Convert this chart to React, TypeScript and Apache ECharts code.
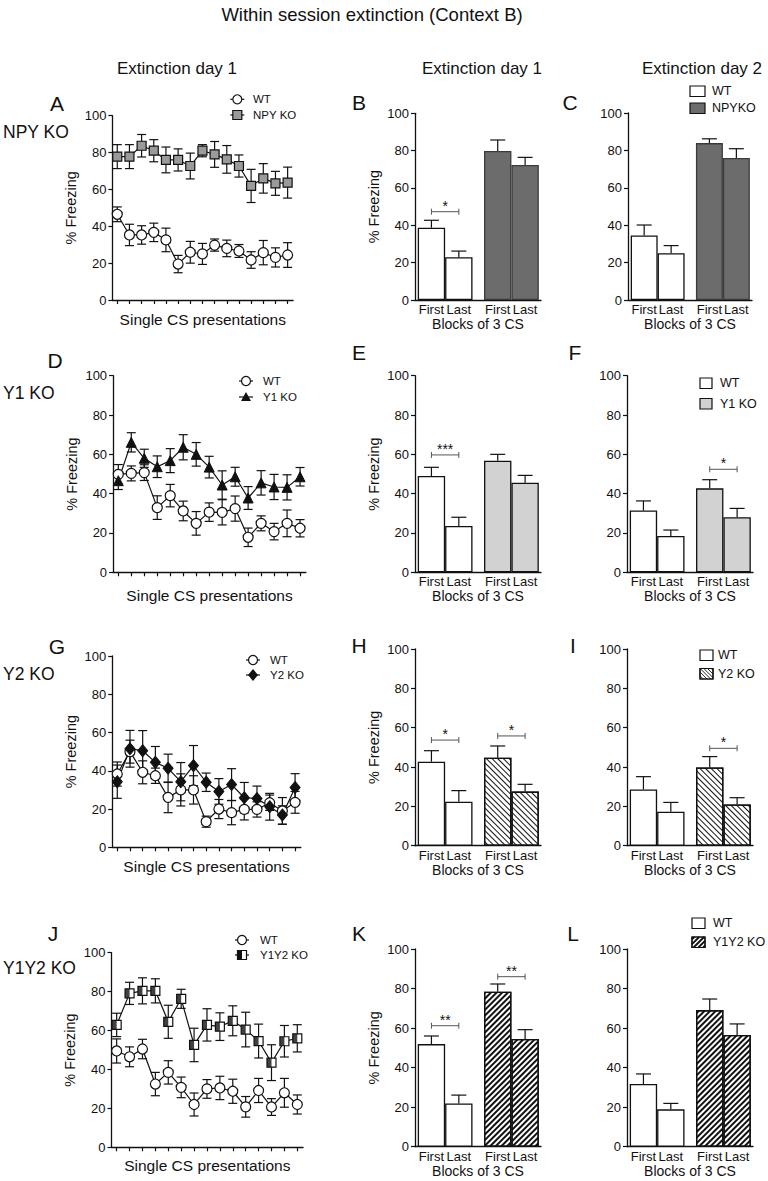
import React, { useEffect, useRef } from "react";
import * as echarts from "echarts";

const FONT = "'Liberation Sans', Arial, Helvetica, sans-serif";
const INK = "#111";

// ---------- single CS presentations (line panels) ----------
const csTrials = [1, 2, 3, 4, 5, 6, 7, 8, 9, 10, 11, 12, 13, 14, 15];

// A: NPY KO
const npyWT = [46.5, 35.3, 35.3, 36.7, 32.6, 19.5, 25.9, 25.0, 29.8, 28.0, 26.6, 21.7, 25.7, 23.1, 24.4];
const npyWTErr = [4.0, 5.8, 5.0, 5.0, 6.4, 4.7, 5.9, 5.7, 3.3, 4.5, 3.5, 4.5, 6.6, 5.2, 6.7];
const npyKO = [77.8, 77.8, 83.7, 81.0, 76.0, 76.0, 72.7, 81.0, 79.0, 76.3, 72.7, 61.9, 66.0, 63.3, 63.7];
const npyKOErr = [6.5, 6.5, 6.1, 6.0, 7.0, 6.0, 7.0, 3.3, 7.0, 7.5, 6.0, 9.0, 8.0, 6.5, 8.4];

// D: Y1 KO
const y1WT = [49.8, 50.3, 50.7, 32.9, 39.0, 31.2, 24.9, 30.6, 30.5, 32.4, 17.8, 24.9, 20.7, 24.9, 22.4];
const y1WTErr = [5.0, 3.8, 4.0, 6.0, 5.7, 5.0, 6.0, 4.7, 6.4, 6.4, 4.7, 3.8, 4.2, 6.8, 4.4];
const y1KO = [46.6, 66.1, 58.0, 53.7, 56.8, 63.6, 60.0, 53.5, 44.4, 48.6, 37.8, 45.5, 43.4, 43.2, 48.6];
const y1KOErr = [4.5, 4.9, 4.6, 5.5, 6.1, 6.4, 6.0, 5.5, 7.2, 4.8, 5.8, 6.2, 6.4, 6.4, 4.7];

// G: Y2 KO
const y2WT = [38.3, 50.0, 39.2, 37.4, 26.1, 30.0, 30.0, 13.4, 20.0, 18.1, 19.8, 19.8, 23.3, 19.0, 23.5];
const y2WTErr = [6.3, 6.0, 6.0, 4.0, 8.0, 8.4, 7.4, 2.9, 5.0, 6.3, 5.5, 4.0, 4.0, 7.0, 5.7];
const y2KO = [34.3, 51.5, 50.5, 44.4, 41.3, 34.3, 42.7, 34.0, 29.2, 32.8, 25.9, 25.5, 21.2, 16.9, 31.3];
const y2KOErr = [8.7, 9.6, 10.5, 8.3, 7.4, 10.0, 10.5, 4.8, 6.7, 8.3, 8.0, 6.5, 7.0, 4.8, 7.2];

// J: Y1Y2 KO
const y12WT = [49.5, 46.5, 50.5, 32.5, 38.5, 30.8, 22.0, 30.0, 30.5, 28.8, 20.8, 29.2, 20.7, 28.0, 22.0];
const y12WTErr = [6.2, 5.1, 5.0, 6.0, 6.0, 5.3, 5.9, 4.8, 6.0, 6.2, 5.3, 6.2, 4.3, 7.4, 4.9];
const y12KO = [62.9, 79.1, 80.4, 80.4, 64.5, 76.3, 52.6, 62.9, 62.0, 65.0, 60.5, 54.6, 43.5, 54.5, 56.0];
const y12KOErr = [6.0, 5.7, 6.7, 6.2, 8.5, 4.9, 8.6, 8.3, 7.1, 7.7, 8.9, 8.7, 9.2, 8.1, 7.0];

// ---------- blocks of 3 CS (bar panels) ----------
const blockLabels = ["First", "Last", "First", "Last"];
const blockPos = [1, 2, 3.42, 4.42];

// B / C : NPY KO, day 1 / day 2   [First, Last]
const bWT = [38.7, 22.9]; const bWTErr = [4.0, 3.3];
const bKO = [79.8, 72.3]; const bKOErr = [5.9, 4.1];
const cWT = [34.5, 25.0]; const cWTErr = [5.6, 4.1];
const cKO = [83.9, 75.9]; const cKOErr = [2.3, 5.0];
// E / F : Y1 KO
const eWT = [49.0, 23.6]; const eWTErr = [4.4, 4.4];
const eKO = [56.8, 45.6]; const eKOErr = [3.2, 3.7];
const fWT = [31.4, 18.5]; const fWTErr = [4.9, 3.0];
const fKO = [42.7, 28.0]; const fKOErr = [4.4, 4.5];
// H / I : Y2 KO
const hWT = [42.7, 22.4]; const hWTErr = [5.6, 5.6];
const hKO = [44.7, 27.5]; const hKOErr = [6.0, 3.7];
const iWT = [28.6, 17.3]; const iWTErr = [6.5, 4.7];
const iKO = [39.8, 21.0]; const iKOErr = [5.5, 3.4];
// K / L : Y1Y2 KO
const kWT = [51.9, 21.9]; const kWTErr = [4.1, 4.2];
const kKO = [78.4, 54.5]; const kKOErr = [3.9, 4.7];
const lWT = [31.7, 18.9]; const lWTErr = [5.1, 3.0];
const lKO = [69.1, 56.5]; const lKOErr = [5.6, 5.6];

// significance brackets: [from bar, to bar, level, label]
type Sig = [number, number, number, string];
const sigB: Sig[] = [[0, 1, 47.3, "*"]];
const sigC: Sig[] = [];
const sigE: Sig[] = [[0, 1, 59.7, "***"]];
const sigF: Sig[] = [[2, 3, 52.4, "*"]];
const sigH: Sig[] = [[0, 1, 53.7, "*"], [2, 3, 55.8, "*"]];
const sigI: Sig[] = [[2, 3, 49.5, "*"]];
const sigK: Sig[] = [[0, 1, 61.2, "**"], [2, 3, 86.0, "**"]];
const sigL: Sig[] = [];

// ---------- styles ----------
const koStyles: Record<string, any> = {
  npyLine: { symbol: "rect", symbolSize: 9, itemStyle: { color: "#9a9a9a", borderColor: INK, borderWidth: 1.2 } },
  y1Line: { symbol: "triangle", symbolSize: 10, itemStyle: { color: INK, borderColor: INK, borderWidth: 1 } },
  y2Line: { symbol: "diamond", symbolSize: [10, 12], itemStyle: { color: INK, borderColor: INK, borderWidth: 1 } },
  y12Line: { symbol: "rect", symbolSize: 9, itemStyle: { color: "#fff", borderColor: INK, borderWidth: 1.2 } },
};
const wtLineStyle = { symbol: "circle", symbolSize: 10, itemStyle: { color: "#fff", borderColor: INK, borderWidth: 1.2 } };

const barWTStyle = { color: "#fff", borderColor: INK, borderWidth: 1.3 };
const barKOStyles: Record<string, any> = {
  npy: { color: "#6c6c6c", borderColor: "#3a3a3a", borderWidth: 1.3 },
  y1: { color: "#d2d2d2", borderColor: INK, borderWidth: 1.3 },
  y2: {
    color: "#fff", borderColor: INK, borderWidth: 1.3,
    decal: { symbol: "rect", symbolSize: 1, dashArrayX: [1, 0], dashArrayY: [1, 2.4], rotation: Math.PI / 4, color: INK },
  },
  y12: {
    color: "#fff", borderColor: INK, borderWidth: 1.3,
    decal: { symbol: "rect", symbolSize: 1, dashArrayX: [1, 0], dashArrayY: [1.9, 1.7], rotation: -Math.PI / 4, color: INK },
  },
};

function buildOption() {
  const grids: any[] = [];
  const xAxes: any[] = [];
  const yAxes: any[] = [];
  const series: any[] = [];

  const axisLine = { show: true, lineStyle: { color: INK, width: 1.3 } };

  function yAxisCfg(gi: number, withName: boolean) {
    return {
      gridIndex: gi, type: "value", min: 0, max: 100, interval: 20,
      axisLine, axisTick: { show: true, length: 4, lineStyle: { color: INK, width: 1.2 } },
      axisLabel: { fontSize: 13, color: INK, margin: 6, fontFamily: FONT },
      splitLine: { show: false },
      name: withName ? "% Freezing" : "", nameLocation: "middle", nameGap: 34, nameRotate: 90,
      nameTextStyle: { fontSize: 14.5, color: INK, fontFamily: FONT },
    };
  }

  function errSeries(gi: number, xs: number[], ys: number[], errs: number[], both: boolean, capHalf: number, z: number) {
    return {
      type: "custom", coordinateSystem: "cartesian2d", xAxisIndex: gi, yAxisIndex: gi, z, silent: true,
      data: xs.map((x, i) => [x, ys[i], errs[i]]),
      renderItem: (_p: any, api: any) => {
        const x = api.value(0), y = api.value(1), e = api.value(2);
        const top = api.coord([x, y + e]);
        const bot = api.coord([x, both ? y - e : y]);
        const st = { stroke: INK, lineWidth: 1.2 };
        const children: any[] = [
          { type: "line", shape: { x1: top[0], y1: top[1], x2: bot[0], y2: bot[1] }, style: st },
          { type: "line", shape: { x1: top[0] - capHalf, y1: top[1], x2: top[0] + capHalf, y2: top[1] }, style: st },
        ];
        if (both) children.push({ type: "line", shape: { x1: bot[0] - capHalf, y1: bot[1], x2: bot[0] + capHalf, y2: bot[1] }, style: st });
        return { type: "group", children };
      },
    };
  }

  function addLinePanel(rect: any, wt: number[], wtErr: number[], ko: number[], koErr: number[], koName: string, koStyle: any, nameGap: number, halfFill: boolean) {
    const gi = grids.length;
    grids.push({ ...rect, containLabel: false, outerBoundsMode: "none" });
    xAxes.push({
      gridIndex: gi, type: "value", min: 0.6, max: 15.45, axisLine,
      axisTick: { show: true, customValues: csTrials, length: 4, lineStyle: { color: INK, width: 1.2 } },
      axisLabel: { show: false }, splitLine: { show: false },
      name: "Single CS presentations", nameLocation: "middle", nameGap,
      nameTextStyle: { fontSize: 15.5, color: INK, fontFamily: FONT },
    });
    yAxes.push(yAxisCfg(gi, true));
    series.push(errSeries(gi, csTrials, wt, wtErr, true, 4.5, 1));
    series.push(errSeries(gi, csTrials, ko, koErr, true, 4.5, 1));
    series.push({
      type: "line", name: "WT", xAxisIndex: gi, yAxisIndex: gi, z: 3, clip: false,
      data: csTrials.map((x, i) => [x, wt[i]]), lineStyle: { color: INK, width: 1.2 }, ...wtLineStyle,
    });
    series.push({
      type: "line", name: koName, xAxisIndex: gi, yAxisIndex: gi, z: 3, clip: false,
      data: csTrials.map((x, i) => [x, ko[i]]), lineStyle: { color: INK, width: 1.2 }, ...koStyle,
    });
    if (halfFill) {
      series.push({
        type: "scatter", xAxisIndex: gi, yAxisIndex: gi, z: 4, clip: false, silent: true,
        data: csTrials.map((x, i) => [x, ko[i]]),
        symbol: "rect", symbolSize: [4.5, 9], symbolOffset: [-2.25, 0], itemStyle: { color: INK },
      });
    }
  }

  function addBarPanel(rect: any, wt: number[], wtErr: number[], ko: number[], koErr: number[], koName: string, koStyle: any, sig: Sig[], withYName: boolean) {
    const gi = grids.length;
    grids.push({ ...rect, containLabel: false, outerBoundsMode: "none" });
    const xMin = 0.4, xMax = 5.0;
    const unit = rect.width / (xMax - xMin);
    xAxes.push({
      gridIndex: gi, type: "value", min: xMin, max: xMax, axisLine,
      axisTick: { show: false }, splitLine: { show: false },
      axisLabel: {
        customValues: blockPos, fontSize: 13, color: INK, margin: 3, fontFamily: FONT,
        formatter: (v: number) => blockLabels[blockPos.findIndex((p) => Math.abs(p - v) < 0.01)] || "",
      },
      name: "Blocks of 3 CS", nameLocation: "middle", nameGap: 17,
      nameTextStyle: { fontSize: 14, color: INK, fontFamily: FONT },
    });
    yAxes.push(yAxisCfg(gi, withYName));
    series.push({
      type: "bar", name: "WT", xAxisIndex: gi, yAxisIndex: gi, barWidth: unit, barGap: "-100%", z: 2,
      data: [[blockPos[0], wt[0]], [blockPos[1], wt[1]]], itemStyle: barWTStyle,
    });
    series.push({
      type: "bar", name: koName, xAxisIndex: gi, yAxisIndex: gi, barWidth: unit, barGap: "-100%", z: 2,
      data: [[blockPos[2], ko[0]], [blockPos[3], ko[1]]], itemStyle: koStyle,
    });
    series.push(errSeries(gi, [blockPos[0], blockPos[1]], wt, wtErr, false, 7.5, 3));
    series.push(errSeries(gi, [blockPos[2], blockPos[3]], ko, koErr, false, 7.5, 3));
    if (sig.length) {
      series.push({
        type: "custom", coordinateSystem: "cartesian2d", xAxisIndex: gi, yAxisIndex: gi, z: 4, silent: true,
        data: sig.map((s) => [blockPos[s[0]], s[2]]),
        renderItem: (params: any, api: any) => {
          const s = sig[params.dataIndex];
          const p1 = api.coord([blockPos[s[0]], s[2]]);
          const p2 = api.coord([blockPos[s[1]], s[2]]);
          const st = { stroke: "#555", lineWidth: 1 };
          return {
            type: "group",
            children: [
              { type: "line", shape: { x1: p1[0], y1: p1[1], x2: p2[0], y2: p2[1] }, style: st },
              { type: "line", shape: { x1: p1[0], y1: p1[1] - 3, x2: p1[0], y2: p1[1] + 3 }, style: st },
              { type: "line", shape: { x1: p2[0], y1: p2[1] - 3, x2: p2[0], y2: p2[1] + 3 }, style: st },
              {
                type: "text", x: (p1[0] + p2[0]) / 2, y: p1[1] + 1,
                style: { text: s[3], fill: INK, fontSize: 14, fontFamily: FONT, align: "center", verticalAlign: "bottom" },
              },
            ],
          };
        },
      });
    }
  }

  // Row 1: NPY KO
  addLinePanel({ left: 112.4, top: 115.7, width: 180.7, height: 184.3 }, npyWT, npyWTErr, npyKO, npyKOErr, "NPY KO", koStyles.npyLine, 11, false);
  addBarPanel({ left: 415, top: 113.3, width: 126, height: 186.7 }, bWT, bWTErr, bKO, bKOErr, "NPYKO", barKOStyles.npy, sigB, true);
  addBarPanel({ left: 628, top: 113, width: 124, height: 187 }, cWT, cWTErr, cKO, cKOErr, "NPYKO", barKOStyles.npy, sigC, false);
  // Row 2: Y1 KO
  addLinePanel({ left: 113.1, top: 375.7, width: 192.8, height: 196.6 }, y1WT, y1WTErr, y1KO, y1KOErr, "Y1 KO", koStyles.y1Line, 15, false);
  addBarPanel({ left: 415, top: 375.7, width: 126, height: 196.6 }, eWT, eWTErr, eKO, eKOErr, "Y1 KO", barKOStyles.y1, sigE, true);
  addBarPanel({ left: 627, top: 375.7, width: 126, height: 196.6 }, fWT, fWTErr, fKO, fKOErr, "Y1 KO", barKOStyles.y1, sigF, false);
  // Row 3: Y2 KO
  addLinePanel({ left: 112.2, top: 656, width: 188.6, height: 191.3 }, y2WT, y2WTErr, y2KO, y2KOErr, "Y2 KO", koStyles.y2Line, 11, false);
  addBarPanel({ left: 415, top: 649, width: 126, height: 196.7 }, hWT, hWTErr, hKO, hKOErr, "Y2 KO", barKOStyles.y2, sigH, true);
  addBarPanel({ left: 627, top: 649, width: 126, height: 196.7 }, iWT, iWTErr, iKO, iKOErr, "Y2 KO", barKOStyles.y2, sigI, false);
  // Row 4: Y1Y2 KO
  addLinePanel({ left: 111.5, top: 952.7, width: 191.6, height: 194.6 }, y12WT, y12WTErr, y12KO, y12KOErr, "Y1Y2 KO", koStyles.y12Line, 10, true);
  addBarPanel({ left: 415, top: 949, width: 126, height: 197.7 }, kWT, kWTErr, kKO, kKOErr, "Y1Y2 KO", barKOStyles.y12, sigK, true);
  addBarPanel({ left: 627, top: 949, width: 126, height: 197.7 }, lWT, lWTErr, lKO, lKOErr, "Y1Y2 KO", barKOStyles.y12, sigL, false);

  // ---------- annotations ----------
  const g: any[] = [];
  const txt = (text: string, x: number, y: number, size: number, align = "left", family = FONT) =>
    g.push({ type: "text", x, y, silent: true, style: { text, fontSize: size, fontFamily: family, fill: INK, align, verticalAlign: "middle" } });

  txt("Within session extinction (Context B)", 372, 14, 18.5, "center");
  txt("Extinction day 1", 177, 68, 17, "center");
  txt("Extinction day 1", 482, 68, 17, "center");
  txt("Extinction day 2", 702, 68, 17, "center");

  txt("NPY KO", 3, 132, 17.5);
  txt("Y1 KO", 3, 393, 17.5);
  txt("Y2 KO", 3, 674, 17.5);
  txt("Y1Y2 KO", 3, 968, 17.5);

  const letters: [string, number, number][] = [
    ["A", 57, 103], ["B", 359, 102], ["C", 570, 102],
    ["D", 55, 360], ["E", 359, 352], ["F", 575, 352],
    ["G", 57, 646], ["H", 359, 645], ["I", 573, 645],
    ["J", 53, 933], ["K", 359, 933], ["L", 573, 933],
  ];
  letters.forEach(([t, x, y]) => txt(t, x, y, 21, "center"));

  const st = { stroke: INK, lineWidth: 1.2 };
  function marker(kind: string, cx: number, cy: number) {
    g.push({ type: "line", silent: true, shape: { x1: cx - 7, y1: cy, x2: cx + 7, y2: cy }, style: st });
    if (kind === "circle") g.push({ type: "circle", silent: true, shape: { cx, cy, r: 4.5 }, style: { ...st, fill: "#fff" } });
    if (kind === "graySquare") g.push({ type: "rect", silent: true, shape: { x: cx - 4.5, y: cy - 4.5, width: 9, height: 9 }, style: { ...st, fill: "#9a9a9a" } });
    if (kind === "triangle") g.push({ type: "polygon", silent: true, shape: { points: [[cx, cy - 5], [cx + 5, cy + 4], [cx - 5, cy + 4]] }, style: { fill: INK } });
    if (kind === "diamond") g.push({ type: "polygon", silent: true, shape: { points: [[cx, cy - 6], [cx + 5, cy], [cx, cy + 6], [cx - 5, cy]] }, style: { fill: INK } });
    if (kind === "halfSquare") {
      g.push({ type: "rect", silent: true, shape: { x: cx - 4.5, y: cy - 4.5, width: 9, height: 9 }, style: { ...st, fill: "#fff" } });
      g.push({ type: "rect", silent: true, shape: { x: cx - 4.5, y: cy - 4.5, width: 4.5, height: 9 }, style: { fill: INK } });
    }
  }
  function lineLegend(cx: number, y1: number, y2: number, tx: number, koKind: string, koName: string) {
    marker("circle", cx, y1); txt("WT", tx, y1, 11.5);
    marker(koKind, cx, y2); txt(koName, tx, y2, 11.5);
  }
  lineLegend(237.3, 99.3, 115, 253, "graySquare", "NPY KO");
  lineLegend(246, 381, 397, 263, "triangle", "Y1 KO");
  lineLegend(253, 660, 675, 270, "diamond", "Y2 KO");
  lineLegend(242, 940, 955, 260, "halfSquare", "Y1Y2 KO");

  function hatch(x0: number, y0: number, w: number, h: number, step: number, dir: string, lw: number) {
    const d = step * Math.SQRT2;
    const hs = { stroke: INK, lineWidth: lw };
    if (dir === "back") {
      for (let c = -w + d / 2; c < h; c += d) {
        const u1 = Math.max(0, -c), u2 = Math.min(w, h - c);
        if (u2 > u1) g.push({ type: "line", silent: true, shape: { x1: x0 + u1, y1: y0 + u1 + c, x2: x0 + u2, y2: y0 + u2 + c }, style: hs });
      }
    } else {
      for (let c = d / 2; c < w + h; c += d) {
        const u1 = Math.max(0, c - h), u2 = Math.min(w, c);
        if (u2 > u1) g.push({ type: "line", silent: true, shape: { x1: x0 + u1, y1: y0 + c - u1, x2: x0 + u2, y2: y0 + c - u2 }, style: hs });
      }
    }
  }
  function barLegend(x: number, w: number, yWT: number, yKO: number, h: number, tx: number, fill: string, hatchDir: string, koName: string) {
    g.push({ type: "rect", silent: true, shape: { x, y: yWT, width: w, height: h }, style: { ...st, fill: "#fff" } });
    txt("WT", tx, yWT + h / 2, 12.5);
    g.push({ type: "rect", silent: true, shape: { x, y: yKO, width: w, height: h }, style: { ...st, fill } });
    if (hatchDir === "back") hatch(x, yKO, w, h, 2.6, "back", 0.9);
    if (hatchDir === "fwd") hatch(x, yKO, w, h, 3.4, "fwd", 1.8);
    if (hatchDir) g.push({ type: "rect", silent: true, shape: { x, y: yKO, width: w, height: h }, style: { ...st, fill: "none" } });
    txt(koName, tx, yKO + h / 2, 12.5);
  }
  barLegend(690, 15, 86, 103, 10.5, 712, "#6c6c6c", "", "NPYKO");
  barLegend(700, 12, 378, 398.5, 10.5, 720, "#d2d2d2", "", "Y1 KO");
  barLegend(700, 13, 650, 668.5, 10.5, 718, "#fff", "back", "Y2 KO");
  barLegend(692, 13, 918, 937, 10.5, 713, "#fff", "fwd", "Y1Y2 KO");

  return {
    animation: false,
    backgroundColor: "#fff",
    textStyle: { fontFamily: FONT, color: INK },
    grid: grids,
    xAxis: xAxes,
    yAxis: yAxes,
    series,
    graphic: g,
  };
}

export default function App() {
  const ref = useRef<HTMLDivElement>(null);
  useEffect(() => {
    if (!ref.current) return;
    const chart = echarts.init(ref.current, null, { renderer: "svg" });
    chart.setOption(buildOption() as any);
    return () => chart.dispose();
  }, []);
  return <div ref={ref} style={{ position: "absolute", left: 0, top: 0, width: 768, height: 1181, background: "#fff" }} />;
}
